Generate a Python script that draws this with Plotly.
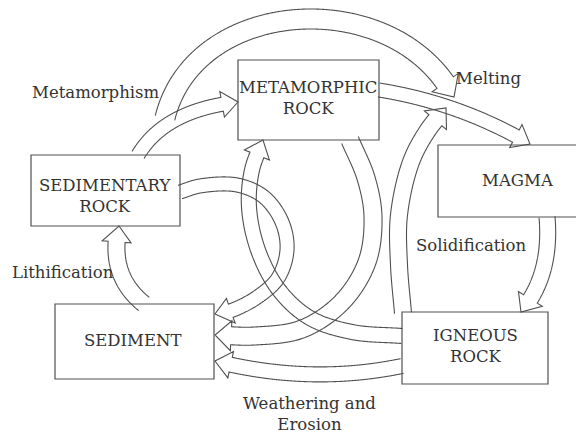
import numpy as np
import plotly.graph_objects as go
from math import comb

# ---- diagram content ----
node_ids = ["MR", "SR", "SED", "MAG", "IR"]
node_labels = ["METAMORPHIC<br>ROCK", "SEDIMENTARY<br>ROCK", "SEDIMENT", "MAGMA", "IGNEOUS<br>ROCK"]
process_labels = ["Metamorphism", "Melting", "Solidification", "Lithification", "Weathering and<br>Erosion"]
edges_from = ["SR", "SR", "MR", "MAG", "IR", "MR", "IR", "SR", "IR", "SED"]
edges_to = ["MR", "MAG", "MAG", "IR", "MAG", "SED", "MR", "SED", "SED", "SR"]

# ---- layout geometry (pixels, y downward) ----
box_rect = {
    "MR": (238, 60, 379, 140),
    "SR": (31, 155, 180, 226),
    "SED": (55, 304, 214, 379),
    "MAG": (438, 145, 581, 217),
    "IR": (402, 312, 548, 384),
}
label_pos = {
    "MR": (308, 98),
    "SR": (105, 196),
    "SED": (132, 340),
    "MAG": (518, 180),
    "IR": (475, 346),
}
process_pos = [(96, 92), (488, 78), (471, 245), (63, 272), (309, 414)]
# each edge path: ("bez", control points) or ("spl", way points), ending at the arrow tip
edge_geom = [
    ("bez", [(138, 155), (165, 110), (238, 102)]),
    ("bez", [(165, 118), (195, -5), (395, -15), (454, 97)]),
    ("bez", [(379, 90), (460, 103), (530, 144)]),
    ("bez", [(547, 217), (552, 275), (521, 312)]),
    ("spl", [(403, 313), (399, 265), (399, 215), (411, 162), (428, 130), (446, 108)]),
    ("spl", [(350, 140), (366, 178), (373, 217), (367, 262), (342, 302), (302, 329), (255, 336), (215, 335)]),
    ("spl", [(402, 336), (352, 332), (310, 318), (279, 290), (258, 250), (249, 207), (252, 170), (263, 140)]),
    ("spl", [(180, 192), (200, 186), (237, 185), (264, 197), (282, 222), (287, 250), (278, 278),
             (256, 298), (230, 311), (215, 314)]),
    ("bez", [(402, 366), (310, 385), (215, 361)]),
    ("bez", [(144, 304), (108, 275), (119, 226)]),
]
edge_width = [14, 20, 14, 16, 17, 18, 15, 14, 15, 17]

LINE = "#505050"
TXT = "#333333"
FONT = "DejaVu Serif"
FS = 16.5
PAGE_MARGIN = 8  # default body margin of the html page


def bezier(ctrl, n=400):
    t = np.linspace(0, 1, n)
    c = np.array(ctrl, dtype=float)
    k = len(c) - 1
    out = np.zeros((n, 2))
    for i in range(k + 1):
        b = comb(k, i) * (t ** i) * ((1 - t) ** (k - i))
        out += b[:, None] * c[i]
    return out


def catmull(points, n_per=60):
    P = np.array(points, dtype=float)
    P = np.vstack([2 * P[0] - P[1], P, 2 * P[-1] - P[-2]])
    out = []
    for i in range(1, len(P) - 2):
        p0, p1, p2, p3 = P[i - 1], P[i], P[i + 1], P[i + 2]
        t0 = 0.0
        t1 = t0 + np.linalg.norm(p1 - p0) ** 0.5
        t2 = t1 + np.linalg.norm(p2 - p1) ** 0.5
        t3 = t2 + np.linalg.norm(p3 - p2) ** 0.5
        t = np.linspace(t1, t2, n_per, endpoint=(i == len(P) - 3))[:, None]
        a1 = (t1 - t) / (t1 - t0) * p0 + (t - t0) / (t1 - t0) * p1
        a2 = (t2 - t) / (t2 - t1) * p1 + (t - t1) / (t2 - t1) * p2
        a3 = (t3 - t) / (t3 - t2) * p2 + (t - t2) / (t3 - t2) * p3
        b1 = (t2 - t) / (t2 - t0) * a1 + (t - t0) / (t2 - t0) * a2
        b2 = (t3 - t) / (t3 - t1) * a2 + (t - t1) / (t3 - t1) * a3
        c = (t2 - t) / (t2 - t1) * b1 + (t - t1) / (t2 - t1) * b2
        out.append(c)
    return np.vstack(out)


def arrow_path(pts, w, head_len=16, barb=6):
    seg = np.hypot(*np.diff(pts, axis=0).T)
    keep = np.concatenate([[True], seg > 1e-6])
    pts = pts[keep]
    seg = np.hypot(*np.diff(pts, axis=0).T)
    s = np.concatenate([[0], np.cumsum(seg)])
    k = int(np.searchsorted(s, s[-1] - head_len)) - 1
    k = max(k, 2)
    tan = np.gradient(pts, axis=0)
    tan /= np.hypot(tan[:, 0], tan[:, 1])[:, None]
    nrm = np.stack([-tan[:, 1], tan[:, 0]], axis=1)
    shaft = pts[: k + 1]
    nn = nrm[: k + 1]
    left = shaft + nn * w / 2
    right = shaft - nn * w / 2
    nb = nn[-1]
    bl = shaft[-1] + nb * (w / 2 + barb)
    br = shaft[-1] - nb * (w / 2 + barb)
    tip = pts[-1]
    seq = list(left) + [bl, tip, br] + list(right[::-1])
    return "M " + " L ".join(f"{p[0]:.2f},{p[1]:.2f}" for p in seq)


fig = go.Figure()
fig.add_trace(go.Scatter(x=[100], y=[100], mode="markers",
                         marker=dict(opacity=0), hoverinfo="skip", showlegend=False))

shapes = []
for nid in node_ids:
    x0, y0, x1, y1 = box_rect[nid]
    shapes.append(dict(type="rect", x0=x0, y0=y0, x1=x1, y1=y1, xref="x", yref="y",
                       line=dict(color=LINE, width=1.2), fillcolor="rgba(0,0,0,0)"))
for (kind, pts), w in zip(edge_geom, edge_width):
    curve = bezier(pts) if kind == "bez" else catmull(pts)
    shapes.append(dict(type="path", path=arrow_path(curve, w), xref="x", yref="y",
                       line=dict(color=LINE, width=1.1), fillcolor="rgba(0,0,0,0)"))

annotations = []
for nid, lab in zip(node_ids, node_labels):
    x, y = label_pos[nid]
    annotations.append(dict(x=x, y=y, xref="x", yref="y", text=lab, showarrow=False,
                            xanchor="center", yanchor="middle",
                            font=dict(family=FONT, size=FS, color=TXT)))
for lab, (x, y) in zip(process_labels, process_pos):
    annotations.append(dict(x=x, y=y, xref="x", yref="y", text=lab, showarrow=False,
                            xanchor="center", yanchor="middle",
                            font=dict(family=FONT, size=FS, color=TXT)))

W, H = 584, 434
fig.update_layout(
    width=W - PAGE_MARGIN, height=H - PAGE_MARGIN,
    margin=dict(l=0, r=0, t=0, b=0),
    paper_bgcolor="white", plot_bgcolor="white",
    xaxis=dict(range=[PAGE_MARGIN, W], visible=False, fixedrange=True),
    yaxis=dict(range=[H, PAGE_MARGIN], visible=False, fixedrange=True),
    shapes=shapes, annotations=annotations, showlegend=False,
)
fig.write_html("out.html")
